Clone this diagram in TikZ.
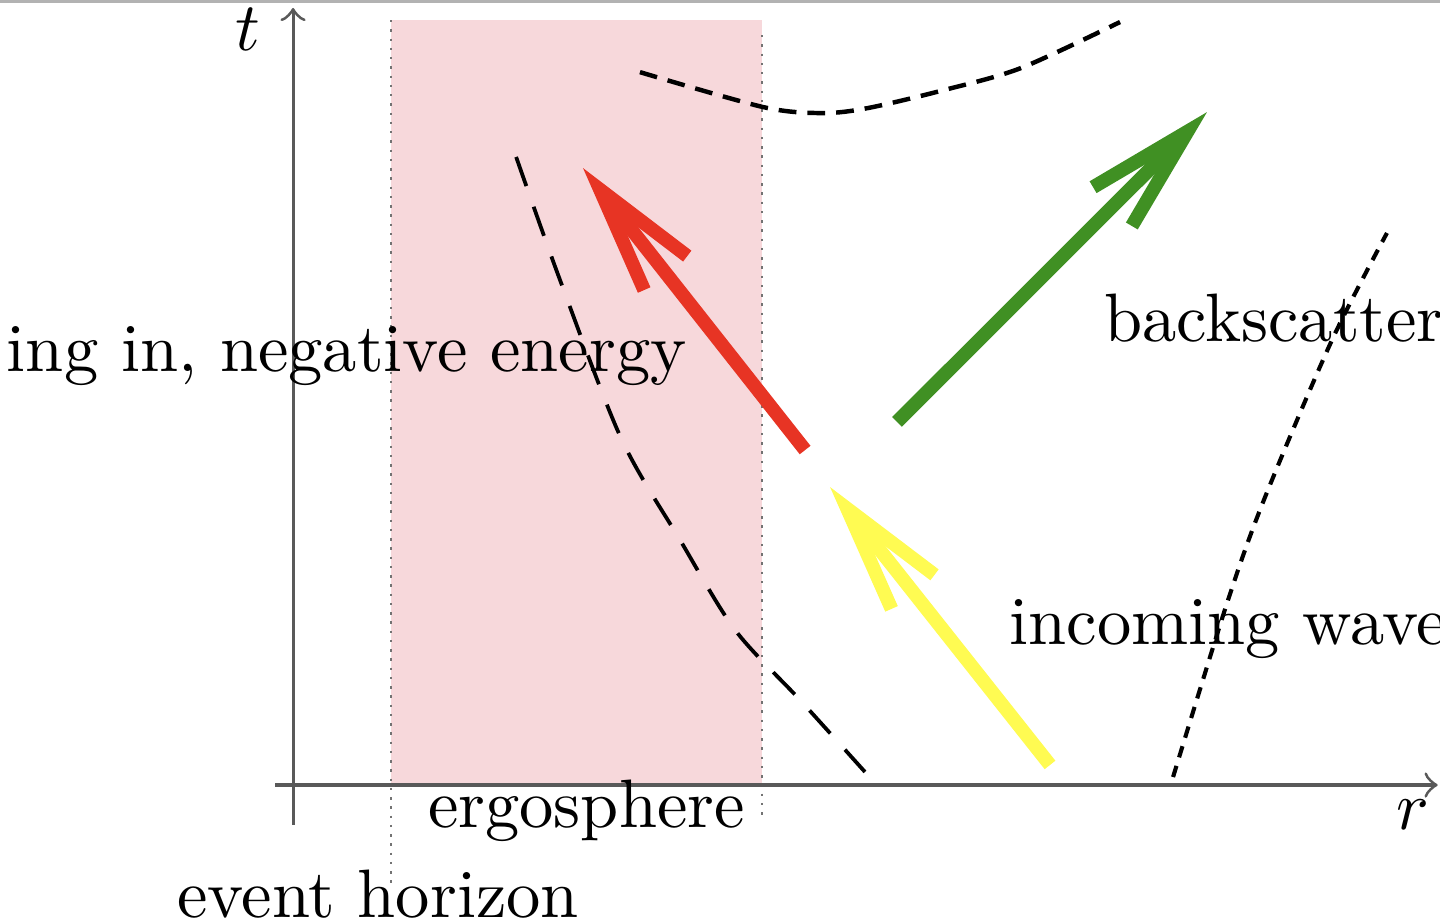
\documentclass[tikz,border=0pt]{standalone}
\usepackage{amsmath}
\usepackage{amssymb}
\usetikzlibrary{arrows.meta}
\definecolor{ergopink}{RGB}{247,216,219}
\definecolor{wavered}{RGB}{231,52,36}
\definecolor{wavegreen}{RGB}{64,144,35}
\definecolor{waveyellow}{RGB}{255,251,82}
\tikzstyle{axis} = [draw=black!65, line width=0.45pt, ->, >=to]
\tikzstyle{boundary} = [draw=black!55, line width=0.35pt, densely dotted]
\tikzstyle{wave} = [line width=2pt, -{Straight Barb[length=15.5pt, width=8pt]}]
\tikzstyle{txt} = [inner sep=0pt]

\begin{document}
\begin{tikzpicture}
        \useasboundingbox (-1.503,-0.703) rectangle (5.882,4.026);
        \draw[black!30, line width=0.5pt] (-1.503,4.02) -- (5.882,4.02);

        \fill[ergopink] (0.503,0) rectangle (2.405,3.923);
        \draw[boundary] (0.503,3.923) -- (0.503,-0.513);
        \draw[boundary] (2.405,3.846) -- (2.405,-0.154);

        \coordinate (tbot) at (0,-0.205);
        \coordinate (ttop) at (0,3.985);
        \coordinate (rleft) at (-0.092,0);
        \coordinate (rright) at (5.87,0);
        \draw[axis] (tbot) -- (ttop);
        \draw[axis] (rleft) -- (rright);

        \node (tlab) [txt] at (-0.23,3.875) {$t$};
        \node (rlab) [txt] at (5.744,-0.154) {$r$};

        \draw[line width=0.55pt, dash pattern=on 4.5pt off 3.2pt] plot[smooth] coordinates {(1.144,3.221) (1.369,2.590) (1.682,1.779) (1.985,1.256) (2.267,0.795) (2.600,0.436) (2.933,0.067)};
        \draw[line width=0.65pt, dash pattern=on 2.6pt off 1.6pt] plot[smooth] coordinates {(1.779,3.656) (2.410,3.477) (2.713,3.446) (2.949,3.472) (3.338,3.564) (3.733,3.677) (4.241,3.913)};
        \draw[line width=0.6pt, dash pattern=on 1.7pt off 1.3pt] plot[smooth] coordinates {(4.513,0.041) (4.795,0.949) (4.985,1.477) (5.328,2.282) (5.610,2.831)};

        \coordinate (yel0) at (3.882,0.103);
        \coordinate (yel1) at (2.754,1.528);
        \coordinate (red0) at (2.626,1.718);
        \coordinate (red1) at (1.487,3.164);
        \coordinate (grn0) at (3.097,1.862);
        \coordinate (grn1) at (4.687,3.451);
        \draw[wave, waveyellow] (yel0) -- (yel1);
        \draw[wave, wavered] (red0) -- (red1);
        \draw[wave, wavegreen] (grn0) -- (grn1);

        \node (ergo) [txt, anchor=base] at (1.505,-0.22) {ergosphere};
        \node (horizon) [txt, anchor=base] at (0.436,-0.677) {event horizon};
        \node (falling) [txt, anchor=base east] at (2.026,2.123) {ing in, negative energy};
        \node (back) [txt, anchor=base west] at (4.154,2.277) {backscatter};
        \node (incoming) [txt, anchor=base west] at (3.667,0.723) {incoming wave};

    \end{tikzpicture}
\end{document}
